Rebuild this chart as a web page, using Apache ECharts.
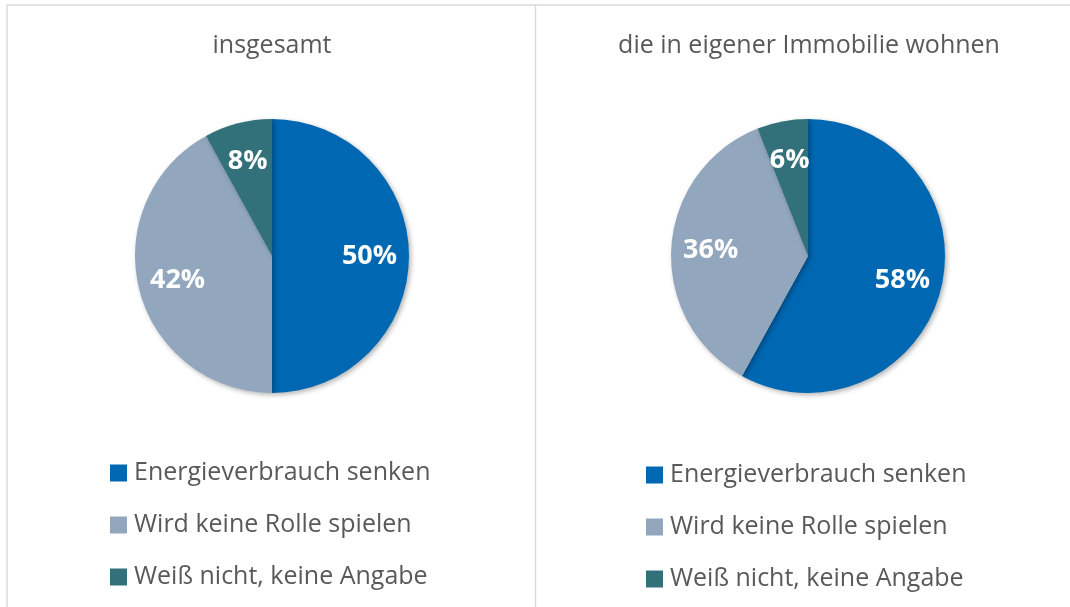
<!DOCTYPE html>
<html>
<head>
<meta charset="utf-8">
<script src="https://cdn.jsdelivr.net/npm/echarts@6/dist/echarts.min.js"></script>
<style>
    html, body { margin: 0; padding: 0; background: #fff; }
    #chart { width: 1070px; height: 607px; }
</style>
</head>
<body>
<div id="chart"></div>
<script>
const categories = ['Energieverbrauch senken', 'Wird keine Rolle spielen', 'Weiß nicht, keine Angabe']
const colors = ['#0067b2', '#92a7bd', '#33717a']
const panelTitles = ['insgesamt', 'die in eigener Immobilie wohnen']
const insgesamt = [50, 42, 8]
const eigeneImmobilie = [58, 36, 6]

const font = 'Open Sans'
const gray = '#595959'

const toData = (values) => values.map((v, i) => ({
    name: categories[i],
    value: v,
    itemStyle: { color: colors[i] }
}))

const pieSeries = (values, cx) => ([
    {
        type: 'pie',
        center: [cx, 256],
        radius: [0, 137],
        startAngle: 90,
        clockwise: true,
        silent: true,
        label: { show: false },
        labelLine: { show: false },
        itemStyle: {
            shadowBlur: 5,
            shadowOffsetX: 2,
            shadowOffsetY: 2,
            shadowColor: 'rgba(0,0,0,0.3)'
        },
        data: toData(values)
    },
    {
        // nur für die Beschriftung
        type: 'pie',
        center: [cx, 256],
        radius: [52, 137],
        startAngle: 90,
        clockwise: true,
        silent: true,
        itemStyle: { color: 'rgba(0,0,0,0)' },
        label: {
            show: true,
            position: 'inside',
            formatter: '{c}%',
            color: '#fff',
            fontFamily: font,
            fontWeight: 'bold',
            fontSize: 27
        },
        labelLine: { show: false },
        data: values.map((v, i) => ({ name: categories[i], value: v }))
    }
])

const legendCfg = (left, top) => ({
    orient: 'vertical',
    left: left,
    top: top,
    padding: 0,
    icon: 'rect',
    itemWidth: 17,
    itemHeight: 17,
    itemGap: 22,
    selectedMode: false,
    data: categories,
    textStyle: {
        color: gray,
        fontFamily: font,
        fontSize: 25,
        lineHeight: 30,
        padding: [0, 0, 0, 2]
    }
})

const chart = echarts.init(document.getElementById('chart'))
chart.setOption({
    animation: false,
    title: [
        {
            text: panelTitles[0],
            left: 272,
            top: 33,
            padding: 0,
            textAlign: 'center',
            textStyle: { color: gray, fontFamily: font, fontWeight: 'normal', fontSize: 25 }
        },
        {
            text: panelTitles[1],
            left: 809,
            top: 33,
            padding: 0,
            textAlign: 'center',
            textStyle: { color: gray, fontFamily: font, fontWeight: 'normal', fontSize: 25 }
        }
    ],
    legend: [legendCfg(110, 458), legendCfg(646, 460)],
    graphic: [
        { type: 'line', shape: { x1: 7, y1: 5, x2: 1070, y2: 5 }, style: { stroke: '#d9d9d9', lineWidth: 1.5 } },
        { type: 'line', shape: { x1: 7, y1: 5, x2: 7, y2: 607 }, style: { stroke: '#d9d9d9', lineWidth: 1.5 } },
        { type: 'line', shape: { x1: 535.5, y1: 5, x2: 535.5, y2: 607 }, style: { stroke: '#d9d9d9', lineWidth: 1.5 } }
    ],
    series: [...pieSeries(insgesamt, 272), ...pieSeries(eigeneImmobilie, 808)]
})
</script>
</body>
</html>
